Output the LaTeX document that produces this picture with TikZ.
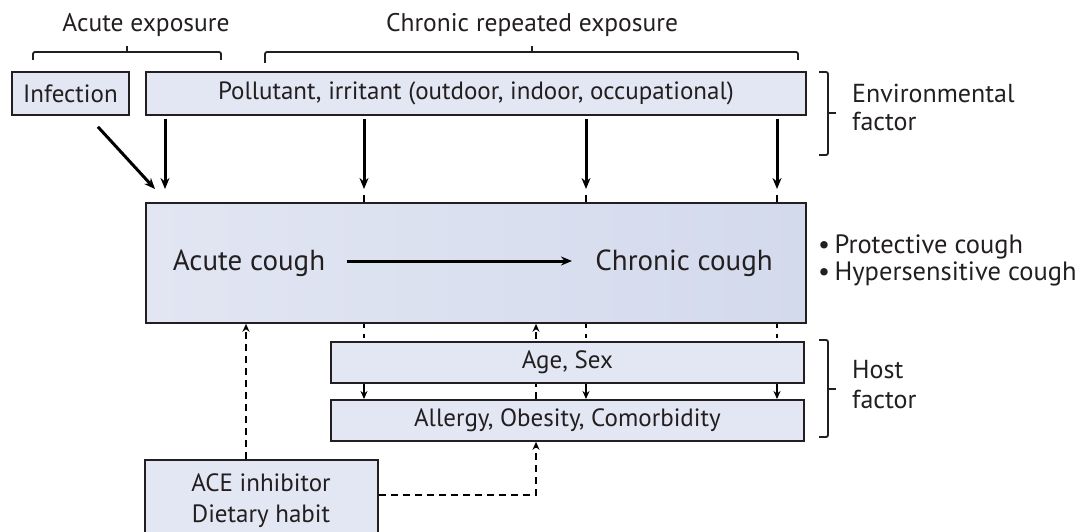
\documentclass[tikz,border=0pt]{standalone}
\usepackage{fontspec}
\setmainfont{PT Sans}
\usetikzlibrary{arrows.meta,backgrounds,calc}
\definecolor{boxfill}{HTML}{E3E7F3}
\definecolor{txt}{HTML}{231F20}
\definecolor{gleft}{HTML}{E2E6F3}
\definecolor{gmid}{HTML}{F8F9FC}
\definecolor{gright}{HTML}{D3DAEC}
\begin{document}
\begin{tikzpicture}[x=1pt,y=-1pt,
  box/.style={draw=txt, line width=1.8pt, fill=boxfill, inner sep=0pt, anchor=north west, text=txt, font=\fontsize{25}{30}\selectfont, align=center},
  lbl/.style={text=txt, inner sep=0pt, font=\fontsize{25.5}{30}\selectfont},
  thickarr/.style={draw=black, line width=3pt, -{Stealth[length=11pt,width=9pt]}},
  thinarr/.style={draw=black, line width=1.7pt, -{Stealth[length=8pt,width=7pt]}},
  thinln/.style={draw=black, line width=1.7pt},
  dashln/.style={draw=black, line width=1.9pt, dash pattern=on 7pt off 5pt},
  dasharr/.style={dashln, -{Stealth[length=8pt,width=7pt]}},
  brk/.style={draw=txt, line width=1.8pt, rounded corners=2pt}]
\clip (0,0) rectangle (1089,532);

% boxes
\node[box, minimum width=117pt, minimum height=43pt] (inf) at (11,71) {Infection};
\node[box, minimum width=660pt, minimum height=43pt] (pol) at (145,71) {Pollutant, irritant (outdoor, indoor, occupational)};
\node[box, draw=txt, left color=gleft, middle color=gmid, right color=gright, minimum width=660pt, minimum height=120pt] (main) at (145,202) {};
\node[box, minimum width=473pt, minimum height=41pt] (age) at (330,341) {Age, Sex};
\node[box, minimum width=473pt, minimum height=41pt] (all) at (330,399) {Allergy, Obesity, Comorbidity};
\node[box, minimum width=233pt, minimum height=85pt] (ace) at (144,459) {};
\node[lbl, font=\fontsize{25}{31}\selectfont, anchor=base] (ace1) at (261,491) {ACE inhibitor};
\node[lbl, font=\fontsize{25}{31}\selectfont, anchor=base] (ace2) at (261,522) {Dietary habit};

% main box texts
\node[lbl, font=\fontsize{29}{32}\selectfont] (acute) at (249,263) {Acute cough};
\node[lbl, font=\fontsize{29}{32}\selectfont] (chronic) at (684,263) {Chronic cough};
\coordinate (a0) at (347,261);
\coordinate (a1) at (572,261);
\draw[line width=3pt, -{Stealth[length=11pt,width=9pt]}] (a0) -- (a1);

% column coordinates
\coordinate (c1) at (165,0);
\coordinate (c2) at (364,0);
\coordinate (c3) at (586,0);
\coordinate (c4) at (777,0);
\coordinate (cu) at (536,0);
\coordinate (ca) at (246,0);
\coordinate (cy) at (0,495);

\begin{scope}[on background layer]
  \draw[dasharr] (all.north -| cu) -- (main.south -| cu);
\end{scope}

% thick arrows from pollutant
\foreach \c in {c1,c2,c3,c4}{
  \draw[thickarr] ($(pol.south -| \c)+(0,3)$) -- ($(main.north -| \c)+(0,-13)$);
}
\foreach \c in {c2,c3,c4}{
  \draw[thinln] ($(main.north -| \c)+(0,-7)$) -- (main.north -| \c);
  \draw[thinln, dash pattern=on 4pt off 6pt] (main.south -| \c) -- (age.north -| \c);
  \draw[thinarr] (age.south -| \c) -- (all.north -| \c);
}
\draw[thickarr] ($(inf.south)+(27.5,11)$) -- ($(main.north -| c1)+(-10,-13)$);

% dashed arrows
\draw[dasharr] (ace.north -| ca) -- (main.south -| ca);
\draw[dasharr] (ace.east |- cy) -- (cy -| cu) -- (all.south -| cu);

% brackets
\draw[brk] (33,60) -- (33,52) -- (221,52) -- (221,60);
\draw[brk] (127,52) -- (127,46);
\draw[brk] (265,63) -- (265,52) -- (798,52) -- (798,60);
\draw[brk] (532,52) -- (532,46);
\draw[brk] (819,72) -- (828,72) -- (828,155) -- (819,155);
\draw[brk] (828,113) -- (836,113);
\draw[brk] (819,340) -- (828,340) -- (828,437) -- (819,437);
\draw[brk] (828,389) -- (836,389);

% labels
\node[lbl, anchor=base] (hacute) at (146,32) {Acute exposure};
\node[lbl, anchor=base] (hchron) at (532,32) {Chronic repeated exposure};
\node[lbl, anchor=base west, font=\fontsize{26}{30}\selectfont] (env1) at (852,103) {Environmental};
\node[lbl, anchor=base west, font=\fontsize{26}{30}\selectfont] (env2) at (852,131) {factor};
\node[lbl, anchor=base west, font=\fontsize{26}{30}\selectfont] (host1) at (852,378) {Host};
\node[lbl, anchor=base west, font=\fontsize{26}{30}\selectfont] (host2) at (852,408) {factor};
\node[lbl, anchor=base west, font=\fontsize{26.5}{30}\selectfont] (b1) at (818,253) {\textbullet\,Protective cough};
\node[lbl, anchor=base west, font=\fontsize{26.5}{30}\selectfont] (b2) at (818,280) {\textbullet\,Hypersensitive cough};
\end{tikzpicture}
\end{document}
